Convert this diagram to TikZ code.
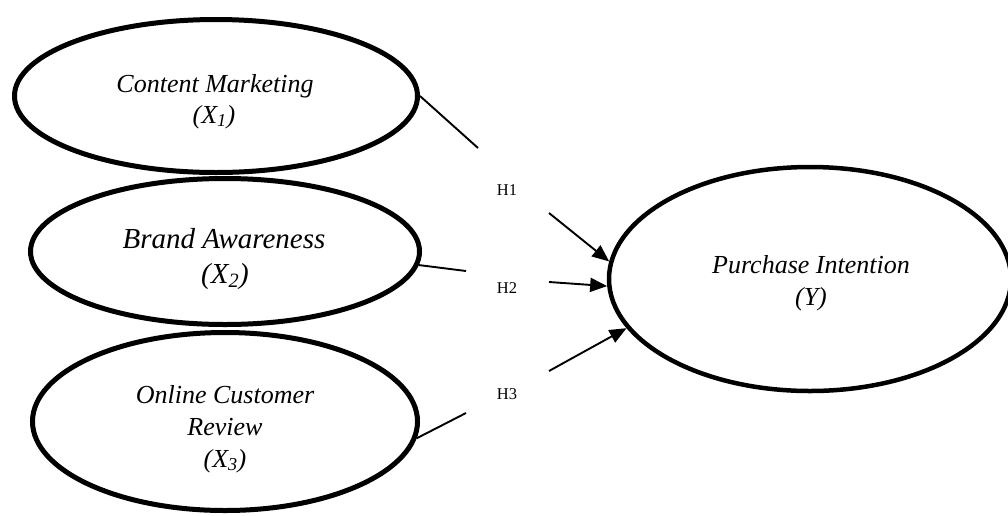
\documentclass[tikz,border=0pt]{standalone}
\usepackage{fontspec}
\setmainfont{Liberation Serif}
\usetikzlibrary{shapes.geometric,arrows.meta}
\begin{document}
\begin{tikzpicture}[x=1pt,y=-1pt,
  latent/.style={draw,ellipse,line width=5pt,inner sep=0pt},
  lbl/.style={anchor=base,inner sep=0pt,font=\fontsize{26}{31}\selectfont\itshape},
  lblb/.style={anchor=base,inner sep=0pt,font=\fontsize{29}{35}\selectfont\itshape},
  hyp/.style={inner sep=0pt,font=\fontsize{16.5}{19}\selectfont},
  conn/.style={line width=1.9pt},
  arr/.style={line width=1.9pt,-{Triangle[length=17pt,width=14pt]}}]
\useasboundingbox (0,0) rectangle (1008,515);
% latent variables
\node[latent,minimum width=403pt,minimum height=153pt] (cm) at (216,96) {};
\node[latent,minimum width=389pt,minimum height=146pt] (ba) at (225,251.5) {};
\node[latent,minimum width=385pt,minimum height=178pt] (ocr) at (225,421.5) {};
\node[latent,line width=4.5pt,minimum width=402pt,minimum height=224pt] (pi) at (810,279) {};
% labels
\node[lbl] (cm1) at (215,92) {Content Marketing};
\node[lbl] (cm2) at (214,123) {(X\textsubscript{1})};
\node[lblb] (ba1) at (224,248) {Brand Awareness};
\node[lblb] (ba2) at (225,283) {(X\textsubscript{2})};
\node[lbl] (ocr1) at (225,403) {Online Customer};
\node[lbl] (ocr2) at (225,435) {Review};
\node[lbl] (ocr3) at (225,467) {(X\textsubscript{3})};
\node[lbl] (pi1) at (811,273) {Purchase Intention};
\node[lbl] (pi2) at (811,305) {(Y)};
% hypotheses
\node[hyp] (h1) at (507,190) {H1};
\node[hyp] (h2) at (507,288) {H2};
\node[hyp] (h3) at (507,394) {H3};
% connector ends
\coordinate (a1) at (478,148);
\coordinate (b1) at (549,213);
\coordinate (a2) at (466,271);
\coordinate (b2) at (549,282);
\coordinate (a3) at (466,413);
\coordinate (b3) at (549,371);
% connectors
\draw[conn] (cm.east) -- (a1);
\draw[arr] (b1) -- (pi.175.4);
\draw[conn] (ba.-4) -- (a2);
\draw[arr] (b2) -- (pi.182.6);
\draw[conn] (ocr.-5.5) -- (a3);
\draw[arr] (b3) -- (pi.195.5);
\end{tikzpicture}
\end{document}
